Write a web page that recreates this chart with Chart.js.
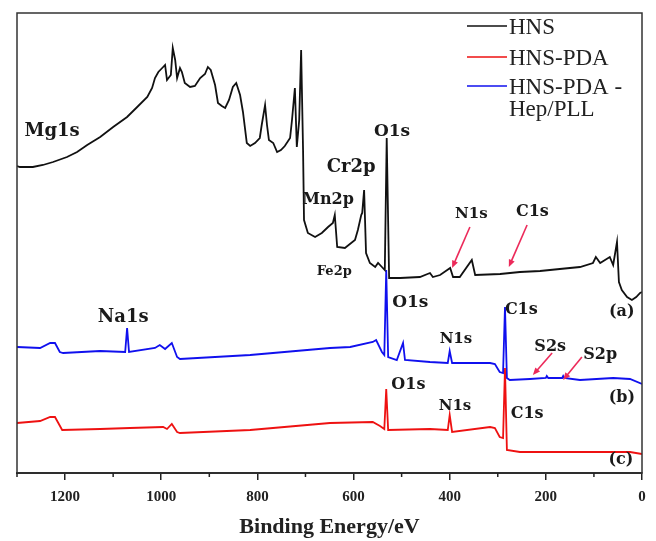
<!DOCTYPE html>
<html>
<head>
<meta charset="utf-8">
<script src="https://cdn.jsdelivr.net/npm/chart.js@4.4.1/dist/chart.umd.min.js"></script>
<style>
html,body{margin:0;padding:0;background:#fff;}
canvas{display:block;}
</style>
</head>
<body>
<canvas id="c" width="656" height="541"></canvas>
<script>
// ---- Data (binding energy in eV, intensity in arbitrary units) ----
const hnsEnergy = [1300,1294,1267,1246,1225,1196,1175,1154,1127,1100,1071,1050,1029,1019,1013,1006,996,992,988,980,976,971,967,961,957,951,940,930,919,909,903,897,888,882,874,867,859,851,844,836,830,822,815,805,795,791,784,780,776,767,759,751,743,732,728,722,718,713,709,705,703,695,680,666,653,643,639,634,618,597,591,584,582,578,574,566,555,549,541,535,531,526,503,462,441,435,420,399,393,379,354,347,295,254,212,171,129,102,96,87,67,60,52,48,42,31,21,12,4,0];
const hnsCounts = [307,306,306,308,311,316,321,328,336,346,356,366,376,385,395,401,406,408,393,398,425,413,395,405,401,390,386,387,395,399,406,403,388,370,367,365,373,386,390,378,361,330,327,330,335,348,368,348,333,330,321,323,327,335,353,385,326,353,423,323,253,240,236,240,246,250,258,226,225,233,243,258,260,283,220,210,206,210,206,203,335,195,195,196,200,196,198,205,196,196,213,198,199,201,202,204,206,210,216,210,216,208,231,191,183,176,173,176,180,181];

const pdaEnergy = [1300,1252,1231,1221,1206,1127,1065,996,988,978,967,961,815,649,560,545,536,532,528,441,404,400,395,316,306,296,289,285,281,254,60,25,0];
const pdaCounts = [50,52,56,56,43,44,45,46,44,49,41,40,43,50,51,47,44,84,43,44,43,58,41,46,45,36,35,105,23,21,21,21,19];

const hepEnergy = [1300,1252,1231,1221,1211,1204,1127,1075,1071,1067,1013,1003,992,978,967,961,815,649,607,560,553,541,536,532,528,510,497,493,441,404,400,395,352,316,306,296,289,285,281,275,233,200,198,195,166,164,162,129,60,25,0];
const hepCounts = [126,125,130,130,121,120,122,121,145,121,125,128,124,130,116,114,118,125,126,131,133,121,118,203,116,113,130,113,111,110,122,110,110,110,109,101,100,166,95,93,94,95,97,95,95,97,95,93,95,94,89];

const seriesNames = ['HNS','HNS-PDA','HNS-PDA -Hep/PLL'];
const legendLines = [['HNS'],['HNS-PDA'],['HNS-PDA -','Hep/PLL']];
const xTickValues = [1200,1000,800,600,400,200,0];
const xMinorTicks = [1300,1100,900,700,500,300,100];

// peak labels: text, energy, intensity, font size
const peakText   = ['Mg1s','Cr2p','Mn2p','Fe2p','O1s','N1s','C1s','Na1s','O1s','C1s','N1s','S2s','S2p','(a)','(b)','O1s','N1s','C1s','(c)'];
const peakEnergy = [1227,605,653,640,520,355,228,1079,482,251,387,191,87,42,42,486,389,239,44];
const peakLevel  = [342,306,273,201,341,259,261,156,170,163,134,126,118,161,75,88,67,59,13];
const peakSize   = [18,18,16,13,17,15,16,18,17,16,15,16,16,16,16,16,15,16,16];
// arrows: [E1, I1, E2, I2]
const arrows = [[358,246,395,205],[239,248,277,206],[187,120,227,98],[125,116,164,93]];

function pts(xs, ys){ return xs.map((x,i)=>({x:x, y:ys[i]})); }

const colors = ['#111111','#ee1111','#1010ee'];

const overlay = {
  id:'overlay',
  afterDraw(chart){
    const ctx = chart.ctx, a = chart.chartArea;
    const xs = chart.scales.x, ys = chart.scales.y;
    ctx.save();
    // frame
    ctx.strokeStyle = '#333'; ctx.lineWidth = 1.5;
    ctx.strokeRect(a.left, a.top, a.right - a.left, a.bottom - a.top);
    // minor ticks
    ctx.strokeStyle = '#222'; ctx.lineWidth = 1.5;
    xMinorTicks.forEach(v=>{
      const px = xs.getPixelForValue(v);
      ctx.beginPath(); ctx.moveTo(px, a.bottom); ctx.lineTo(px, a.bottom+4); ctx.stroke();
    });
    // peak labels
    ctx.fillStyle = '#1a1a1a';
    ctx.textAlign = 'center'; ctx.textBaseline = 'middle';
    peakText.forEach((t,i)=>{
      ctx.font = 'bold ' + peakSize[i] + 'px "DejaVu Serif"';
      ctx.fillText(t, xs.getPixelForValue(peakEnergy[i]), ys.getPixelForValue(peakLevel[i]));
    });
    // arrows
    ctx.strokeStyle = '#ec2a5a'; ctx.fillStyle = '#ec2a5a'; ctx.lineWidth = 1.6;
    arrows.forEach(r=>{
      const x1 = xs.getPixelForValue(r[0]), y1 = ys.getPixelForValue(r[1]);
      const x2 = xs.getPixelForValue(r[2]), y2 = ys.getPixelForValue(r[3]);
      const ang = Math.atan2(y2-y1, x2-x1), L = 8;
      ctx.beginPath(); ctx.moveTo(x1,y1);
      ctx.lineTo(x2 - Math.cos(ang)*L*0.8, y2 - Math.sin(ang)*L*0.8); ctx.stroke();
      ctx.beginPath(); ctx.moveTo(x2,y2);
      ctx.lineTo(x2 - L*Math.cos(ang-0.4), y2 - L*Math.sin(ang-0.4));
      ctx.lineTo(x2 - L*Math.cos(ang+0.4), y2 - L*Math.sin(ang+0.4));
      ctx.closePath(); ctx.fill();
    });
    // legend
    const lx1 = 467, lx2 = 507, tx = 509;
    const rowY = [27, 58, 87];
    ctx.font = '23px "Liberation Serif"'; ctx.textAlign = 'left'; ctx.textBaseline = 'middle';
    chart.data.datasets.forEach((ds,i)=>{
      ctx.strokeStyle = ds.borderColor; ctx.lineWidth = 1.6;
      ctx.beginPath(); ctx.moveTo(lx1, rowY[i]-1); ctx.lineTo(lx2, rowY[i]-1); ctx.stroke();
      ctx.fillStyle = '#222';
      legendLines[i].forEach((ln,j)=> ctx.fillText(ln, tx, rowY[i] + 1 + j*22));
    });
    ctx.restore();
  }
};

new Chart(document.getElementById('c'), {
  type:'line',
  data:{
    datasets:[
      {label:seriesNames[0], data:pts(hnsEnergy,hnsCounts), borderColor:colors[0]},
      {label:seriesNames[1], data:pts(pdaEnergy,pdaCounts), borderColor:colors[1]},
      {label:seriesNames[2], data:pts(hepEnergy,hepCounts), borderColor:colors[2]}
    ]
  },
  options:{
    responsive:false, animation:false, devicePixelRatio:1,
    elements:{ line:{ borderWidth:1.8, tension:0, fill:false }, point:{ radius:0 } },
    layout:{ padding:{ left:17, right:14, top:13, bottom:0 } },
    plugins:{ legend:{display:false}, tooltip:{enabled:false} },
    scales:{
      x:{
        type:'linear', min:0, max:1300, reverse:true,
        afterBuildTicks(s){ s.ticks = xTickValues.map(v=>({value:v})); },
        afterFit(s){ s.height = 68; },
        grid:{ drawOnChartArea:false, drawTicks:true, tickLength:7, color:'#222', lineWidth:1.5 },
        border:{ display:true, color:'#222', width:2 },
        ticks:{ padding:8, color:'#222', callback:(v)=>String(v),
                font:{ family:'Liberation Serif', size:15, weight:'bold' }, maxRotation:0 },
        title:{ display:true, text:'Binding Energy/eV', color:'#222', padding:{top:0,bottom:0},
                font:{ family:'Liberation Serif', size:22, weight:'bold' } }
      },
      y:{ display:false, min:0, max:460 }
    }
  },
  plugins:[overlay]
});
</script>
</body>
</html>
